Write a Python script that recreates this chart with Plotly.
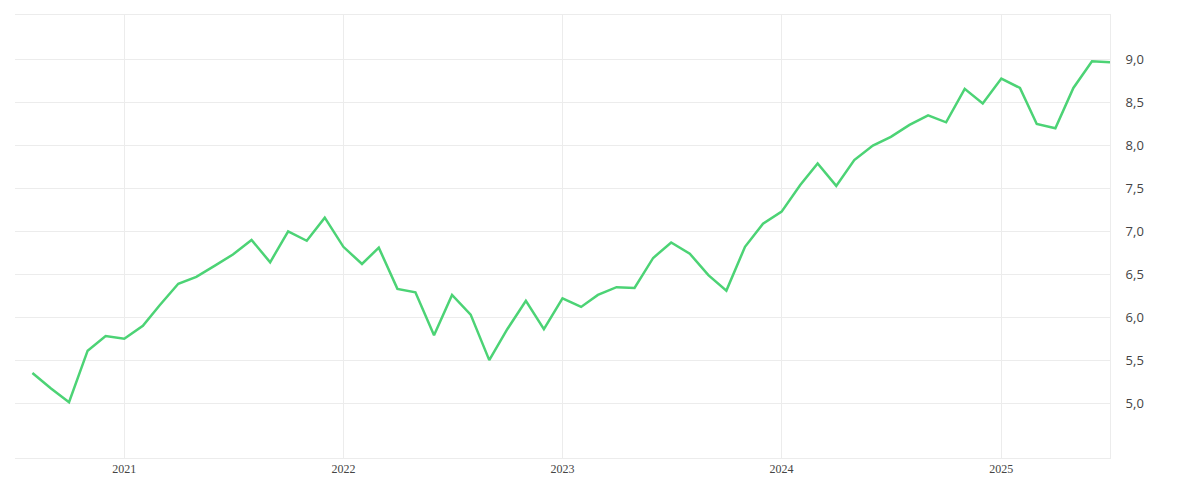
import plotly.graph_objects as go
import pandas as pd

dates = pd.date_range("2020-08-01", "2025-07-01", freq="MS")
values = [5.35, 5.17, 5.01, 5.61, 5.78, 5.75, 5.90, 6.14, 6.39, 6.47, 6.60, 6.73,
          6.90, 6.64, 7.00, 6.89, 7.16, 6.82, 6.62, 6.81, 6.33, 6.29, 5.79, 6.26,
          6.03, 5.50, 5.86, 6.19, 5.86, 6.22, 6.12, 6.26, 6.35, 6.34, 6.69, 6.87,
          6.74, 6.49, 6.31, 6.82, 7.09, 7.23, 7.54, 7.79, 7.53, 7.83, 8.00, 8.10,
          8.24, 8.35, 8.27, 8.66, 8.49, 8.78, 8.67, 8.25, 8.20, 8.67, 8.98, 8.97]
ytick_vals = [5.0, 5.5, 6.0, 6.5, 7.0, 7.5, 8.0, 8.5, 9.0]

fig = go.Figure(go.Scatter(x=dates, y=values, mode="lines",
                           line=dict(color="#4cd375", width=2.5), hoverinfo="skip"))
grid = "#ececec"
fig.update_layout(
    width=1200, height=500, margin=dict(l=7, r=98, t=7, b=50),
    plot_bgcolor="white", paper_bgcolor="white", showlegend=False,
    separators=",.",
    xaxis=dict(range=["2020-07-03", "2025-07-01"], showgrid=True, gridcolor=grid,
               dtick="M12", tick0="2021-01-01", tickformat="%Y",
               showline=True, linecolor=grid, mirror=True, zeroline=False,
               ticks="", tickfont=dict(family="Liberation Serif", size=12, color="#444")),
    yaxis=dict(range=[4.36, 9.52], side="right", tickvals=ytick_vals, tickformat=".1f",
               showgrid=True, gridcolor=grid, showline=True, linecolor=grid,
               zeroline=False, ticks="outside", ticklen=12, tickcolor="rgba(0,0,0,0)",
               tickfont=dict(family="Open Sans", size=13, color="#444")),
)
fig.write_html("out.html")
